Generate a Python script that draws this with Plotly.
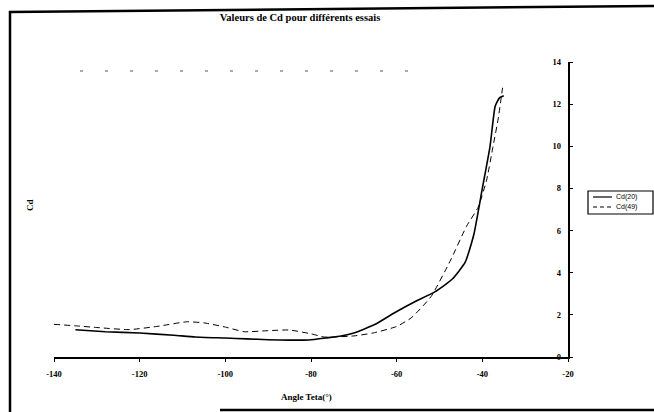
import plotly.graph_objects as go

# Data
angle_cd20 = [-135, -128, -120, -112, -107, -100, -95, -90, -85, -80.5, -76, -73, -70, -65, -60.5, -56, -51, -47, -44, -42, -40, -38.2, -37, -36, -35]
cd20 = [1.29, 1.2, 1.14, 1.03, 0.95, 0.9, 0.86, 0.82, 0.8, 0.81, 0.92, 1.0, 1.14, 1.55, 2.1, 2.6, 3.1, 3.7, 4.5, 5.8, 8.0, 10.0, 11.9, 12.3, 12.4]

angle_cd49 = [-140, -135, -130, -122.5, -116, -109, -105, -100, -95.6, -90, -85, -80, -77, -75, -70, -65.5, -60, -56.6, -52, -47.4, -43.7, -41, -39, -37.5, -36.3, -35.6, -35.2]
cd49 = [1.55, 1.48, 1.4, 1.3, 1.45, 1.67, 1.62, 1.42, 1.2, 1.25, 1.28, 1.1, 0.95, 0.95, 1.0, 1.14, 1.45, 1.86, 2.86, 4.6, 6.2, 7.1, 8.4, 10.0, 11.3, 12.3, 12.9]

x_ticks = [-140, -120, -100, -80, -60, -40, -20]
y_ticks = [0, 2, 4, 6, 8, 10, 12, 14]

series_names = ["Cd(20)", "Cd(49)"]
title_text = "Valeurs de Cd pour différents essais"
x_title = "Angle Teta(°)"
y_title = "Cd"

W, H = 654, 412
L, R, T, B = 54, 86, 62, 55
pw, ph = W - L - R, H - T - B

def px(x):
    return (x - L) / pw

def py(y):
    return (H - B - y) / ph

serif_bold = dict(family="Liberation Serif", size=8.5, color="black", weight="bold")

fig = go.Figure()
fig.add_trace(go.Scatter(x=angle_cd20, y=cd20, mode="lines", name=series_names[0],
                         line=dict(color="black", width=1.6, shape="spline", smoothing=0.5)))
fig.add_trace(go.Scatter(x=angle_cd49, y=cd49, mode="lines", name=series_names[1],
                         line=dict(color="black", width=1, dash="6px,4px", shape="spline", smoothing=0.5)))

# compact legend box (drawn as in the original: 2 rows inside a small frame)
leg_shapes = [
    dict(type="rect", xref="paper", yref="paper", x0=px(588), y0=py(191), x1=px(653), y1=py(214),
         line=dict(color="black", width=1.2), fillcolor="white"),
    dict(type="line", xref="paper", yref="paper", x0=px(593), y0=py(197), x1=px(612), y1=py(197),
         line=dict(color="black", width=1.2)),
    dict(type="line", xref="paper", yref="paper", x0=px(593), y0=py(207), x1=px(612), y1=py(207),
         line=dict(color="black", width=1, dash="4px,3px")),
]
leg_ann = [
    dict(text=series_names[0], x=px(614), y=py(197), xref="paper", yref="paper", showarrow=False,
         xanchor="left", yanchor="middle", font=dict(family="Liberation Sans", size=7, color="black")),
    dict(text=series_names[1], x=px(614), y=py(207), xref="paper", yref="paper", showarrow=False,
         xanchor="left", yanchor="middle", font=dict(family="Liberation Sans", size=7, color="black")),
]

fig.update_layout(
    width=W, height=H,
    margin=dict(l=L, r=R, t=T, b=B, autoexpand=False),
    paper_bgcolor="white", plot_bgcolor="white",
    showlegend=False,
    title=dict(text=title_text, x=300 / W, xref="container", xanchor="center",
               y=1 - 17 / H, yref="container", yanchor="middle",
               font=dict(family="Liberation Serif", size=10.5, color="black", weight="bold")),
    xaxis=dict(range=[-140, -20], tickvals=x_ticks, ticktext=[str(v) for v in x_ticks],
               showgrid=False, zeroline=False, showline=True, linecolor="black", linewidth=1.5,
               ticks="outside", ticklen=3, tickcolor="black", tickfont=serif_bold,
               ticklabeloverflow="allow", ticklabelstandoff=5),
    yaxis=dict(range=[0, 14], tickvals=y_ticks, side="right", ticklabelposition="inside",
               showgrid=False, zeroline=False, showline=True, linecolor="black", linewidth=1.5,
               ticks="outside", ticklen=3, tickcolor="black", tickfont=serif_bold,
               ticklabeloverflow="allow", ticklabelstandoff=6),
    annotations=[
        dict(text=x_title, x=px(306), y=py(397), xref="paper", yref="paper",
             showarrow=False, xanchor="center", yanchor="middle",
             font=dict(family="Liberation Serif", size=9, color="black", weight="bold")),
        dict(text=y_title, x=px(30), y=py(205), xref="paper", yref="paper",
             showarrow=False, xanchor="center", yanchor="middle", textangle=-90,
             font=dict(family="Liberation Serif", size=9, color="black", weight="bold")),
    ] + leg_ann,
    shapes=[
        dict(type="line", xref="paper", yref="paper", x0=px(9), y0=py(12), x1=px(654), y1=py(6),
             line=dict(color="black", width=2.5)),
        dict(type="line", xref="paper", yref="paper", x0=px(10), y0=py(11), x1=px(10), y1=py(412),
             line=dict(color="black", width=2.5)),
        dict(type="line", xref="paper", yref="paper", x0=px(220), y0=py(410), x1=px(654), y1=py(410),
             line=dict(color="black", width=2.5)),
        dict(type="line", xref="paper", yref="paper", x0=px(80), y0=py(71), x1=px(410), y1=py(71),
             line=dict(color="#555555", width=1, dash="3px,22px")),
    ] + leg_shapes,
)

fig.write_html("out.html")
